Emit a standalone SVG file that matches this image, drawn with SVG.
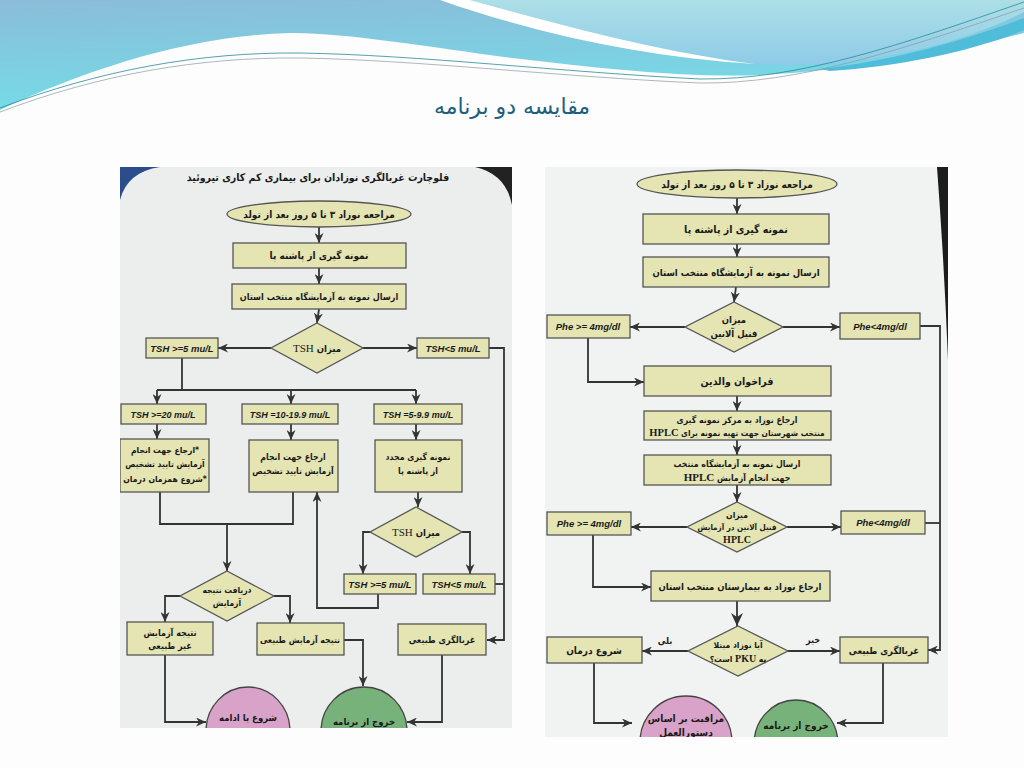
<svg xmlns="http://www.w3.org/2000/svg" width="1024" height="768" viewBox="0 0 1024 768">
<defs>
<linearGradient id="gMain" x1="0" y1="0" x2="0.25" y2="1">
<stop offset="0" stop-color="#8bbcd8"/>
<stop offset="1" stop-color="#74dce8"/>
</linearGradient>
<linearGradient id="gLight" x1="0" y1="0" x2="0" y2="1">
<stop offset="0" stop-color="#acdfe6"/>
<stop offset="1" stop-color="#8fcbe8"/>
</linearGradient>
<marker id="ah" markerUnits="userSpaceOnUse" markerWidth="11" markerHeight="9" refX="10" refY="4.5" orient="auto">
<path d="M0,0 L10,4.5 L0,9 L3,4.5 Z" fill="#333"/>
</marker>
<marker id="ahb" markerUnits="userSpaceOnUse" markerWidth="14" markerHeight="12" refX="13" refY="6" orient="auto">
<path d="M0,0 L13,6 L0,12 L4,6 Z" fill="#333"/>
</marker>
<clipPath id="clipL"><rect x="120" y="167" width="392" height="561"/></clipPath>
<clipPath id="clipR"><rect x="545" y="167" width="403" height="570"/></clipPath>
<style>
.box{fill:#e5e5b3;stroke:#555;stroke-width:1.3}
.t{font-family:"DejaVu Sans Condensed","DejaVu Sans",sans-serif;font-stretch:condensed;font-weight:bold;fill:#1a1a1a;text-anchor:middle;direction:rtl}
.e{font-family:"Liberation Sans",Arial,sans-serif;font-style:italic;font-weight:bold;fill:#1a1a1a;text-anchor:middle}
.c{fill:none;stroke:#333;stroke-width:1.8}
.a{marker-end:url(#ah)}
.pink{fill:#d9a2c8;stroke:#444;stroke-width:1.3}
.green{fill:#78b27b;stroke:#444;stroke-width:1.3}
.sf{font-family:"Liberation Serif",serif}
</style>
</defs>
<rect width="1024" height="768" fill="#fdfdfd"/>
<g id="header">
<path d="M0,0 H1024 V33 C980,45 930,56 900,58 C860,66 820,72 760,75 C680,78 600,68 512,58 C430,47 340,32 290,33 C190,36 90,68 0,110 Z" fill="url(#gMain)"/>
<path d="M470,0 C560,25 660,52 755,64 C860,70 960,45 1024,12 V0 Z" fill="url(#gLight)"/>
<path d="M470,0 C560,25 660,52 755,64 C650,58 540,35 440,0 Z" fill="#ffffff"/>
<path d="M820,69 C900,60 970,38 1024,18 V30 C970,52 900,66 830,71 Z" fill="#4fbcd9"/>
<path d="M0,108 C100,70 200,52 300,53 C420,55 560,72 700,79 C800,80 900,45 1024,2" fill="none" stroke="#2a8a9a" stroke-width="0.8"/>
<path d="M0,112 C100,74 200,57 300,58 C420,60 560,77 700,83 C800,84 900,50 1024,8" fill="none" stroke="#8a9aa0" stroke-width="0.7"/>
<text x="512" y="114" font-family="DejaVu Sans,sans-serif" font-size="22" fill="#1e5f7e" text-anchor="middle" direction="rtl">مقایسه دو برنامه</text>
</g>

<g id="left-panel" clip-path="url(#clipL)" font-size="9.5">
<rect x="120" y="167" width="392" height="561" fill="#eceeee"/>
<path d="M120,167 H160 Q127,172 120,200 Z" fill="#2c4d8c"/>
<path d="M475,167 H512 V205 Q506,174 475,167 Z" fill="#222"/>
<text class="t" x="318" y="181" font-size="10.5">فلوچارت غربالگری نوزادان برای بیماری کم کاری تیروئید</text>

<g id="L-connectors">
<line class="c a" x1="319" y1="227" x2="319" y2="243"/>
<line class="c a" x1="319" y1="268" x2="319" y2="284"/>
<line class="c a" x1="319" y1="309" x2="317" y2="323"/>
<line class="c a" x1="271" y1="348" x2="218" y2="348"/>
<line class="c a" x1="363" y1="348" x2="417" y2="348"/>
<polyline class="c a" points="489,348 504,348 504,640 487,640"/>
<polyline class="c" points="182,358 182,390"/>
<polyline class="c" points="157,390 416,390"/>
<line class="c a" x1="157" y1="390" x2="157" y2="404"/>
<line class="c a" x1="291" y1="390" x2="291" y2="404"/>
<line class="c a" x1="416" y1="390" x2="416" y2="404"/>
<line class="c a" x1="157" y1="424" x2="157" y2="439"/>
<line class="c a" x1="291" y1="424" x2="291" y2="440"/>
<line class="c a" x1="416" y1="424" x2="416" y2="440"/>
<polyline class="c" points="160,492 160,524 293,524 293,492"/>
<line class="c a" x1="227" y1="524" x2="227" y2="571"/>
<line class="c a" x1="418" y1="492" x2="418" y2="507"/>
<polyline class="c a" points="370,532 363,532 363,574"/>
<polyline class="c a" points="462,532 470,532 470,574"/>
<line class="c" x1="495" y1="584" x2="504" y2="584"/>
<polyline class="c a" points="378,594 378,608 317,608 317,492"/>
<polyline class="c a" points="180,596 165,596 165,622"/>
<polyline class="c a" points="274,596 290,596 290,623"/>
<polyline class="c a" points="344,640 363,640 363,686"/>
<polyline class="c a" points="165,655 165,722 206,722"/>
<polyline class="c a" points="442,655 442,722 407,722"/>
</g>

<g id="L-start"><ellipse cx="319" cy="214" rx="92" ry="13" class="box"/><text class="t" x="319" y="218" font-size="10">مراجعه نوزاد ۳ تا ۵ روز بعد از تولد</text></g>
<g id="L-sample"><rect class="box" x="233" y="243" width="173" height="25"/><text class="t" x="319" y="259" font-size="10">نمونه گیری از پاشنه پا</text></g>
<g id="L-send"><rect class="box" x="232" y="284" width="174" height="25"/><text class="t" x="319" y="300" font-size="9">ارسال نمونه به آزمایشگاه منتخب استان</text></g>
<g id="L-d1"><polygon class="box" points="317,323 363,348 317,373 271,348"/><text class="t" x="317" y="352" font-size="9.5">میزان <tspan class="sf" font-weight="normal" font-size="11">TSH</tspan></text></g>
<g id="L-ge5"><rect class="box" x="146" y="338" width="72" height="20"/><text class="e" x="182" y="351.5" font-size="9.5">TSH &gt;=5 mu/L</text></g>
<g id="L-lt5"><rect class="box" x="417" y="338" width="72" height="20"/><text class="e" x="453" y="351.5" font-size="9.5">TSH&lt;5 mu/L</text></g>
<g id="L-ge20"><rect class="box" x="121" y="404" width="85" height="20"/><text class="e" x="163" y="417.5" font-size="9">TSH &gt;=20 mu/L</text></g>
<g id="L-10"><rect class="box" x="242" y="404" width="96" height="20"/><text class="e" x="290" y="417.5" font-size="9">TSH =10-19.9 mu/L</text></g>
<g id="L-5"><rect class="box" x="374" y="404" width="88" height="20"/><text class="e" x="418" y="417.5" font-size="9">TSH =5-9.9 mu/L</text></g>
<g id="L-A"><rect class="box" x="120" y="439" width="89" height="53"/><text class="t" x="165" y="453" font-size="8.5">*ارجاع جهت انجام</text><text class="t" x="165" y="467" font-size="8.5">آزمایش تایید تشخیص</text><text class="t" x="165" y="482" font-size="8.5">*شروع همزمان درمان</text></g>
<g id="L-B"><rect class="box" x="249" y="440" width="89" height="52"/><text class="t" x="293" y="460" font-size="8.7">ارجاع جهت انجام</text><text class="t" x="293" y="474" font-size="8.7">آزمایش تایید تشخیص</text></g>
<g id="L-C"><rect class="box" x="375" y="440" width="87" height="52"/><text class="t" x="418" y="460" font-size="8.7">نمونه گیری  مجدد</text><text class="t" x="418" y="474" font-size="8.7">از پاشنه پا</text></g>
<g id="L-d2"><polygon class="box" points="416,507 462,532 416,557 370,532"/><text class="t" x="416" y="536" font-size="9.5">میزان <tspan class="sf" font-weight="normal" font-size="11">TSH</tspan></text></g>
<g id="L-ge5b"><rect class="box" x="344" y="574" width="72" height="20"/><text class="e" x="380" y="587.5" font-size="9.5">TSH &gt;=5 mu/L</text></g>
<g id="L-lt5b"><rect class="box" x="423" y="574" width="72" height="20"/><text class="e" x="459" y="587.5" font-size="9.5">TSH&lt;5 mu/L</text></g>
<g id="L-d3"><polygon class="box" points="227,571 274,596 227,621 180,596"/><text class="t" x="227" y="593" font-size="8.5">دریافت نتیجه</text><text class="t" x="227" y="606" font-size="8.5">آزمایش</text></g>
<g id="L-abn"><rect class="box" x="127" y="622" width="86" height="33"/><text class="t" x="170" y="636" font-size="9">نتیجه آزمایش</text><text class="t" x="170" y="649" font-size="9">غیر طبیعی</text></g>
<g id="L-nor"><rect class="box" x="257" y="623" width="87" height="32"/><text class="t" x="300" y="643" font-size="8.7">نتیجه آزمایش طبیعی</text></g>
<g id="L-scr"><rect class="box" x="398" y="624" width="88" height="31"/><text class="t" x="442" y="643" font-size="9">غربالگری طبیعی</text></g>
<g id="L-pink"><ellipse class="pink" cx="248" cy="731" rx="42" ry="44"/><text class="t" x="248" y="721" font-size="9.5">شروع یا ادامه</text></g>
<g id="L-green"><ellipse class="green" cx="364" cy="731" rx="43" ry="44"/><text class="t" x="364" y="725" font-size="9.5">خروج از برنامه</text></g>
</g>

<g id="right-panel" clip-path="url(#clipR)" font-size="9.5">
<rect x="545" y="167" width="403" height="570" fill="#f1f2f2"/>
<path d="M937,167 H948 V360 Q944,260 937,167 Z" fill="#1c1c1c"/>

<g id="R-connectors">
<line class="c a" x1="737" y1="198" x2="737" y2="214"/>
<line class="c a" x1="737" y1="244" x2="737" y2="257"/>
<line class="c a" x1="736" y1="287" x2="734" y2="302"/>
<line class="c a" x1="685" y1="327" x2="630" y2="327"/>
<line class="c a" x1="783" y1="327" x2="840" y2="327"/>
<polyline class="c a" points="920,326 940,326 940,650 928,650"/>
<polyline class="c a" points="588,338 588,382 644,382"/>
<line class="c a" x1="737" y1="396" x2="737" y2="411"/>
<line class="c a" x1="737" y1="440" x2="737" y2="455"/>
<line class="c a" x1="737" y1="485" x2="737" y2="502"/>
<line class="c a" x1="687" y1="527" x2="631" y2="527"/>
<line class="c a" x1="787" y1="527" x2="841" y2="527"/>
<line class="c" x1="925" y1="523" x2="940" y2="523"/>
<polyline class="c a" points="593,535 593,587 651,587"/>
<line class="c" x1="737" y1="601" x2="737" y2="626" stroke-width="3" marker-end="url(#ahb)"/>
<line class="c a" x1="688" y1="651" x2="642" y2="651"/>
<line class="c a" x1="788" y1="651" x2="840" y2="651"/>
<polyline class="c a" points="594,663 594,723 632,723"/>
<polyline class="c a" points="883,663 883,723 837,723"/>
<text class="t" x="665" y="644" font-size="9">بلی</text>
<text class="t" x="813" y="643" font-size="9">خیر</text>
</g>

<g id="R-start"><ellipse class="box" cx="737" cy="184" rx="100" ry="14"/><text class="t" x="737" y="188" font-size="10">مراجعه نوزاد ۳ تا ۵ روز بعد از تولد</text></g>
<g id="R-sample"><rect class="box" x="643" y="214" width="186" height="30"/><text class="t" x="736" y="233" font-size="10.5">نمونه گیری از پاشنه پا</text></g>
<g id="R-send"><rect class="box" x="643" y="257" width="186" height="30"/><text class="t" x="736" y="276" font-size="9.5">ارسال نمونه به آزمایشگاه منتخب استان</text></g>
<g id="R-d1"><polygon class="box" points="734,302 783,327 734,352 685,327"/><text class="t" x="734" y="323" font-size="9.5">میزان</text><text class="t" x="734" y="337" font-size="9.5">فنیل آلانین</text></g>
<g id="R-ge4"><rect class="box" x="547" y="315" width="83" height="23"/><text class="e" x="588" y="330" font-size="9.5">Phe &gt;= 4mg/dl</text></g>
<g id="R-lt4"><rect class="box" x="840" y="313" width="80" height="26"/><text class="e" x="880" y="330" font-size="9.5">Phe&lt;4mg/dl</text></g>
<g id="R-parents"><rect class="box" x="644" y="366" width="187" height="30"/><text class="t" x="737" y="385" font-size="10.5">فراخوان والدین</text></g>
<g id="R-refer"><rect class="box" x="644" y="411" width="187" height="29"/><text class="t" x="737" y="423" font-size="8.7">ارجاع نوزاد به مرکز نمونه گیری</text><text class="t" x="737" y="436" font-size="8.3">منتخب شهرستان جهت تهیه نمونه برای <tspan class="sf" font-size="10.5">HPLC</tspan></text></g>
<g id="R-send2"><rect class="box" x="644" y="455" width="187" height="30"/><text class="t" x="737" y="467" font-size="8.7">ارسال  نمونه به آزمایشگاه منتخب</text><text class="t" x="737" y="481" font-size="8.7">جهت انجام آزمایش  <tspan class="sf" font-size="11">HPLC</tspan></text></g>
<g id="R-d2"><polygon class="box" points="737,502 787,527 737,552 687,527"/><text class="t" x="737" y="518" font-size="8.5">میزان</text><text class="t" x="737" y="530" font-size="8">فنیل آلانین در آزمایش</text><text class="sf" x="737" y="543" font-size="10" font-weight="bold" text-anchor="middle" fill="#1a1a1a">HPLC</text></g>
<g id="R-ge4b"><rect class="box" x="547" y="512" width="84" height="23"/><text class="e" x="589" y="527" font-size="9.5">Phe &gt;= 4mg/dl</text></g>
<g id="R-lt4b"><rect class="box" x="841" y="511" width="84" height="23"/><text class="e" x="883" y="526" font-size="9.5">Phe&lt;4mg/dl</text></g>
<g id="R-hosp"><rect class="box" x="651" y="571" width="179" height="30"/><text class="t" x="740" y="590" font-size="9.5">ارجاع نوزاد به بیمارستان منتخب استان</text></g>
<g id="R-d3"><polygon class="box" points="738,626 788,651 738,676 688,651"/><text class="t" x="738" y="648" font-size="8.5">آیا نوزاد مبتلا</text><text class="t" x="738" y="662" font-size="8.5">به <tspan class="sf" font-size="10">PKU</tspan> است؟</text></g>
<g id="R-treat"><rect class="box" x="547" y="637" width="95" height="26"/><text class="t" x="594" y="654" font-size="10">شروع درمان</text></g>
<g id="R-scr"><rect class="box" x="840" y="637" width="88" height="26"/><text class="t" x="884" y="654" font-size="9.5">غربالگری طبیعی</text></g>
<g id="R-pink"><ellipse class="pink" cx="686" cy="742" rx="46" ry="46"/><text class="t" x="686" y="722" font-size="10">مراقبت بر اساس</text><text class="t" x="686" y="736" font-size="10">دستورالعمل</text></g>
<g id="R-green"><ellipse class="green" cx="796" cy="744" rx="42" ry="44"/><text class="t" x="796" y="729" font-size="10">خروج از برنامه</text></g>
</g>
</svg>
